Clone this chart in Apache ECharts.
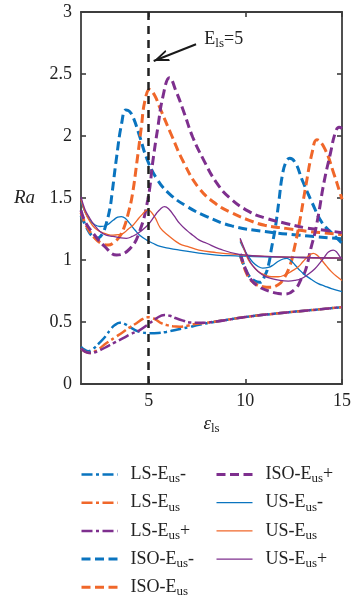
<!DOCTYPE html>
<html><head><meta charset="utf-8">
<script src="https://cdn.jsdelivr.net/npm/echarts@6/dist/echarts.min.js"></script>
<style>html,body{margin:0;padding:0;background:#fff}#c{width:354px;height:606px}</style>
</head><body><div id="c"></div>
<script>
// ---------- data ----------
const xMin = 1.5, xMax = 15;
const xTicks = [5, 10, 15];
const yTicks = [0, 0.5, 1, 1.5, 2, 2.5, 3];
const seriesNames = ['LS-Eus-','LS-Eus','LS-Eus+','ISO-Eus-','ISO-Eus','ISO-Eus+','US-Eus-','US-Eus','US-Eus+'];

// LS (dash-dot)
const lsMinusX = [1.5,1.7,1.88,2.1,2.48,2.8,3.0,3.25,3.51,3.75,4.02,4.3,4.54,5.05,5.5,5.91,6.5,7.11,7.6,8.3,10.0,11.7,13.5,15];
const lsMinusY = [0.30,0.275,0.265,0.28,0.335,0.39,0.435,0.475,0.494,0.485,0.46,0.435,0.42,0.41,0.412,0.42,0.44,0.46,0.478,0.498,0.54,0.57,0.597,0.62];
const lsMidX = [1.5,1.7,1.96,2.3,2.82,3.3,3.68,4.0,4.37,4.7,4.96,5.2,5.4,5.65,5.91,6.25,6.6,7.0,7.4,8.3,10.0,11.7,13.5,15];
const lsMidY = [0.285,0.262,0.25,0.27,0.33,0.38,0.42,0.455,0.49,0.525,0.538,0.532,0.516,0.49,0.476,0.465,0.462,0.47,0.484,0.50,0.54,0.57,0.597,0.62];
const lsPlusX = [1.5,1.7,1.96,2.3,2.82,3.25,3.68,4.1,4.54,5.05,5.4,5.82,6.1,6.42,6.8,7.11,7.62,8.3,10.0,11.7,13.5,15];
const lsPlusY = [0.285,0.262,0.25,0.26,0.30,0.335,0.37,0.405,0.435,0.49,0.53,0.556,0.55,0.53,0.51,0.496,0.494,0.50,0.54,0.57,0.597,0.62];

// ISO (dashed) — two branches each
const isoMinusX1 = [1.5,1.8,2.1,2.35,2.6,2.8,3.0,3.1,3.35,3.6,3.82,4.0,4.2,4.55,4.9,5.4,6.1,7.0,8.0,9.3,11.0,12.8,15];
const isoMinusY1 = [1.36,1.26,1.19,1.175,1.21,1.29,1.42,1.53,1.84,2.10,2.21,2.20,2.15,1.99,1.82,1.66,1.53,1.43,1.35,1.275,1.23,1.20,1.17];
const isoMinusX2 = [9.75,10.0,10.2,10.5,10.75,11.0,11.2,11.36,11.55,11.74,11.91,12.1,12.3,12.6,12.94,13.46,13.97,14.49,15];
const isoMinusY2 = [1.03,0.93,0.87,0.83,0.82,0.87,0.96,1.10,1.26,1.48,1.68,1.79,1.82,1.78,1.645,1.46,1.30,1.215,1.135];
const isoMidX1 = [1.5,1.8,2.2,2.6,2.9,3.2,3.5,3.7,3.95,4.15,4.4,4.62,4.8,5.05,5.3,5.6,6.2,6.8,7.6,8.5,9.3,10.2,11.0,12.1,13.3,15];
const isoMidY1 = [1.38,1.27,1.18,1.13,1.12,1.14,1.19,1.25,1.38,1.52,1.80,2.07,2.28,2.375,2.33,2.22,2.00,1.79,1.58,1.45,1.38,1.32,1.28,1.255,1.23,1.205];
const isoMidX2 = [9.75,10.1,10.5,10.9,11.3,11.7,11.95,12.3,12.5,12.8,13.12,13.46,13.7,14.1,14.57,14.9,15];
const isoMidY2 = [1.04,0.88,0.81,0.785,0.78,0.80,0.84,0.95,1.07,1.30,1.59,1.87,1.97,1.90,1.70,1.54,1.49];
const isoPlusX1 = [1.5,1.71,2.13,2.74,3.34,4.02,4.53,4.96,5.22,5.48,5.74,6.08,6.42,6.85,7.28,7.8,8.48,9.2,10.2,11.1,12.1,13.1,14.1,15];
const isoPlusY1 = [1.40,1.31,1.215,1.107,1.04,1.09,1.23,1.49,1.80,2.075,2.32,2.47,2.36,2.18,1.99,1.82,1.63,1.50,1.39,1.335,1.295,1.26,1.24,1.22];
const isoPlusX2 = [9.75,10.0,10.3,10.7,11.2,11.7,12.05,12.6,12.9,13.12,13.4,13.6,13.8,14.06,14.4,14.66,14.85,15];
const isoPlusY2 = [1.05,0.93,0.84,0.785,0.75,0.73,0.725,0.77,0.85,0.92,1.10,1.22,1.38,1.62,1.86,2.03,2.07,2.06];

// US (solid) — two branches each
const usMinusX1 = [1.5,1.7,1.96,2.2,2.48,2.82,3.16,3.4,3.59,3.8,4.02,4.3,4.54,4.9,5.22,5.6,6.08,6.6,7.6,8.5,9.5,11,13,15];
const usMinusY1 = [1.47,1.39,1.32,1.285,1.27,1.28,1.32,1.345,1.35,1.335,1.295,1.24,1.20,1.16,1.135,1.11,1.094,1.08,1.055,1.04,1.033,1.025,1.02,1.015];
const usMinusX2 = [9.73,9.95,10.16,10.4,10.68,10.9,11.19,11.45,11.71,11.95,12.14,12.35,12.57,12.8,13.08,13.4,13.77,14.1,14.45,15];
const usMinusY2 = [1.15,1.08,1.03,0.98,0.946,0.935,0.94,0.96,0.99,1.008,1.013,0.995,0.96,0.92,0.88,0.845,0.81,0.79,0.77,0.745];
const usMidX1 = [1.5,1.7,1.96,2.2,2.48,2.8,3.16,3.45,3.68,3.95,4.19,4.4,4.62,4.95,5.3,5.6,6.0,6.6,7.0,7.6,8.5,9.5,11,13,15];
const usMidY1 = [1.49,1.39,1.31,1.26,1.23,1.21,1.20,1.205,1.215,1.25,1.28,1.32,1.36,1.405,1.35,1.26,1.20,1.13,1.11,1.08,1.06,1.045,1.03,1.02,1.015];
const usMidX2 = [9.73,9.95,10.16,10.4,10.68,11.0,11.36,11.7,12.05,12.4,12.74,13.0,13.25,13.51,13.7,13.94,14.2,14.45,14.7,15];
const usMidY2 = [1.165,1.08,1.0,0.95,0.906,0.88,0.865,0.865,0.88,0.91,0.946,0.99,1.03,1.054,1.04,1.0,0.95,0.906,0.87,0.835];
const usPlusX1 = [1.5,1.7,1.96,2.2,2.48,2.8,3.16,3.5,3.85,4.15,4.45,4.88,5.15,5.4,5.6,5.82,6.05,6.3,6.6,7.0,7.28,7.62,8.0,8.65,9.68,11,13,15];
const usPlusY1 = [1.51,1.41,1.335,1.28,1.23,1.20,1.19,1.18,1.175,1.19,1.215,1.27,1.32,1.375,1.41,1.43,1.41,1.36,1.295,1.235,1.20,1.16,1.135,1.09,1.045,1.03,1.02,1.015];
const usPlusX2 = [9.73,9.95,10.16,10.4,10.68,11.0,11.36,11.8,12.22,12.55,12.9,13.25,13.6,13.85,14.11,14.3,14.54,14.72,14.88,15];
const usPlusY2 = [1.175,1.09,1.013,0.95,0.906,0.87,0.85,0.835,0.83,0.835,0.85,0.885,0.93,0.975,1.027,1.065,1.08,1.065,1.03,1.01];

// annotation
const refLineX = 5;
const annotLabelAt = [7.88, 2.78];
const arrowFrom = [7.45, 2.74];
const arrowTo = [5.26, 2.605];

// ---------- styling ----------
const FONT = '"Liberation Serif","Times New Roman",serif';
const BLUE = '#0a74bf', ORANGE = '#f0672a', PURPLE = '#7e2f8e';
const AXIS = '#3d3d3d', TXT = '#222222';
const kinds = {
  LS:  {width: 2.5, type: [11, 3.5, 3, 3.5]},
  ISO: {width: 3,   type: [9, 4.5]},
  US:  {width: 1.3, type: 'solid'}
};
const pts = (xs, ys) => xs.map((x, i) => [x, ys[i]]);
const curves = [
  {name: seriesNames[0], kind: 'LS',  color: BLUE,   parts: [[lsMinusX, lsMinusY]]},
  {name: seriesNames[1], kind: 'LS',  color: ORANGE, parts: [[lsMidX, lsMidY]]},
  {name: seriesNames[2], kind: 'LS',  color: PURPLE, parts: [[lsPlusX, lsPlusY]]},
  {name: seriesNames[3], kind: 'ISO', color: BLUE,   parts: [[isoMinusX1, isoMinusY1], [isoMinusX2, isoMinusY2]]},
  {name: seriesNames[4], kind: 'ISO', color: ORANGE, parts: [[isoMidX1, isoMidY1], [isoMidX2, isoMidY2]]},
  {name: seriesNames[5], kind: 'ISO', color: PURPLE, parts: [[isoPlusX1, isoPlusY1], [isoPlusX2, isoPlusY2]]},
  {name: seriesNames[6], kind: 'US',  color: BLUE,   parts: [[usMinusX1, usMinusY1], [usMinusX2, usMinusY2]]},
  {name: seriesNames[7], kind: 'US',  color: ORANGE, parts: [[usMidX1, usMidY1], [usMidX2, usMidY2]]},
  {name: seriesNames[8], kind: 'US',  color: PURPLE, parts: [[usPlusX1, usPlusY1], [usPlusX2, usPlusY2]]}
];

const series = [];
curves.forEach(c => {
  c.parts.forEach(p => {
    series.push({
      type: 'line', name: c.name, data: pts(p[0], p[1]),
      showSymbol: false, symbol: 'none', smooth: 0.45,
      color: c.color,
      lineStyle: {color: c.color, width: kinds[c.kind].width, type: kinds[c.kind].type},
      silent: true
    });
  });
});

const ARROW = 'path://M6,15 L12,30 L9.9,30 L6,20.25 L2.1,30 L0,30 Z M6,0 L6.02,0 L6.02,0.02 Z';
series.push({
  type: 'line', name: '__annot', data: [], silent: true,
  markLine: {
    silent: true, animation: false, symbol: 'none',
    label: {show: false},
    data: [
      [{xAxis: refLineX, yAxis: yTicks[0], symbol: 'none', lineStyle: {color: '#222', width: 2.5, type: [8, 6]}},
       {xAxis: refLineX, yAxis: yTicks[yTicks.length - 1], symbol: 'none'}],
      [{coord: arrowFrom, symbol: 'none', lineStyle: {color: '#1a1a1a', width: 2, type: 'solid'}},
       {coord: arrowTo, symbol: ARROW, symbolSize: [12, 30]}]
    ]
  },
  markPoint: {
    silent: true, animation: false,
    symbol: 'circle', symbolSize: 0.01,
    data: [{coord: annotLabelAt, value: 'E=5'}],
    label: {
      show: true, position: 'right', distance: 0,
      formatter: '{n|E}{s|ls}{n|=5}',
      rich: {
        n: {fontFamily: FONT, fontSize: 18, lineHeight: 22, color: TXT},
        s: {fontFamily: FONT, fontSize: 13, lineHeight: 11, verticalAlign: 'bottom', color: TXT}
      }
    }
  }
});

const legendRich = {
  sp: {width: 8},
  n: {fontFamily: FONT, fontSize: 18, lineHeight: 22, color: TXT},
  s: {fontFamily: FONT, fontSize: 13, lineHeight: 11, verticalAlign: 'bottom', color: TXT}
};
const legendFmt = name => {
  const parts = name.split('Eus');
  return '{sp|}{n|' + parts[0] + 'E}{s|us}' + (parts[1] ? '{n|' + parts[1] + '}' : '');
};
const legendItem = name => {
  const c = curves.find(k => k.name === name);
  return {
    name: name,
    lineStyle: {width: kinds[c.kind].width},
    itemStyle: {color: 'rgba(0,0,0,0)', borderWidth: 0, opacity: 0}
  };
};
const legendBase = {
  orient: 'vertical', top: 465.5, padding: 0, itemGap: 8.2,
  itemWidth: 36, itemHeight: 14, selectedMode: false,
  formatter: legendFmt, textStyle: {rich: legendRich}
};

const axisLine = {show: true, onZero: false, lineStyle: {color: AXIS, width: 1.8}};
const tickStyle = {color: AXIS, width: 1.6};

const option = {
  animation: false,
  backgroundColor: '#ffffff',
  grid: {left: 81, right: 11, top: 12, bottom: 222},
  legend: [
    Object.assign({}, legendBase, {left: 80, data: seriesNames.slice(0, 5).map(legendItem)}),
    Object.assign({}, legendBase, {left: 215, data: seriesNames.slice(5).map(legendItem)})
  ],
  xAxis: [
    {
      type: 'value', position: 'bottom', min: xMin, max: xMax,
      axisLine: axisLine,
      axisTick: {show: true, inside: true, length: 5, customValues: xTicks, lineStyle: tickStyle},
      axisLabel: {customValues: xTicks, fontFamily: FONT, fontSize: 18, color: TXT, margin: 8},
      splitLine: {show: false},
      name: '{e|ε}{s|ls}', nameLocation: 'middle', nameGap: 26,
      nameTextStyle: {
        rich: {
          e: {fontFamily: FONT, fontStyle: 'italic', fontSize: 19, lineHeight: 22, color: TXT},
          s: {fontFamily: FONT, fontSize: 13, lineHeight: 11, verticalAlign: 'bottom', color: TXT}
        }
      }
    },
    {
      type: 'value', position: 'top', min: xMin, max: xMax,
      axisLine: axisLine,
      axisTick: {show: true, inside: true, length: 5, customValues: xTicks, lineStyle: tickStyle},
      axisLabel: {show: false}, splitLine: {show: false}
    }
  ],
  yAxis: [
    {
      type: 'value', position: 'left', min: yTicks[0], max: yTicks[yTicks.length - 1],
      interval: yTicks[1] - yTicks[0],
      axisLine: axisLine,
      axisTick: {show: true, inside: true, length: 5, lineStyle: tickStyle},
      axisLabel: {fontFamily: FONT, fontSize: 18, color: TXT, margin: 9},
      splitLine: {show: false},
      name: 'Ra', nameLocation: 'middle', nameRotate: 0, nameGap: 46,
      nameTextStyle: {fontFamily: FONT, fontStyle: 'italic', fontSize: 19, color: TXT}
    },
    {
      type: 'value', position: 'right', min: yTicks[0], max: yTicks[yTicks.length - 1],
      interval: yTicks[1] - yTicks[0],
      axisLine: axisLine,
      axisTick: {show: true, inside: true, length: 5, lineStyle: tickStyle},
      axisLabel: {show: false}, splitLine: {show: false}
    }
  ],
  series: series
};

const chart = echarts.init(document.getElementById('c'), null, {renderer: 'canvas'});
chart.setOption(option);
</script></body></html>
